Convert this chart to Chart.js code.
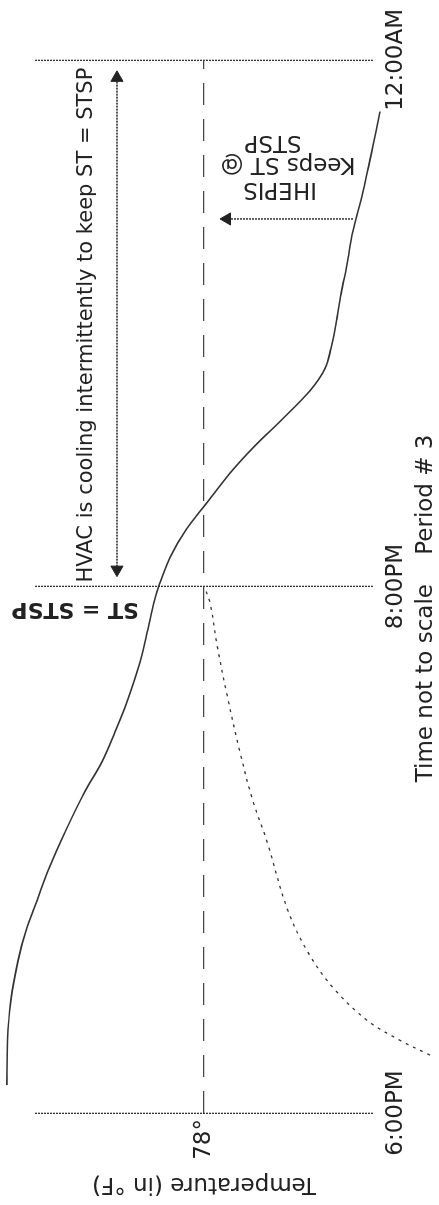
<!DOCTYPE html>
<html><head><meta charset="utf-8">
<script src="https://cdn.jsdelivr.net/npm/chart.js@4.4.1/dist/chart.umd.min.js"></script>
<style>
html,body{margin:0;padding:0;background:#fff;overflow:hidden;width:439px;height:1205px;}
#wrap{position:absolute;left:0;top:0;width:1205px;height:439px;transform-origin:0 0;transform:translate(0,1205px) rotate(-90deg);background:#fff;}
canvas{display:block;}
</style></head><body>
<div id="wrap"><canvas id="c" width="1205" height="439"></canvas></div>
<script>
// Time axis (not to scale): 0 = 6:00PM, 1 = 8:00PM, 2 = 12:00AM
const timeTicks = [0, 1, 2];
const timeLabels = ['6:00PM', '8:00PM', '12:00AM'];
const tempTicks = [78];
const tempTickLabels = ['78°'];

// Space temperature (solid)
const solidTime = [0.053,0.138,0.214,0.290,0.346,0.403,0.469,0.541,0.611,0.667,0.724,0.781,0.856,0.919,0.970,1.002,1.055,1.108,1.159,1.215,1.267,1.319,1.372,1.414,1.452,1.499,1.556,1.612,1.675,1.750,1.820,1.864,1.902];
const solidTemp = [87.33,87.30,87.14,86.80,86.43,85.91,85.29,84.49,83.63,82.83,82.21,81.64,81.03,80.65,80.37,80.13,79.61,78.85,77.86,76.77,75.59,74.26,72.98,72.27,71.99,71.75,71.51,71.23,70.95,70.47,70.09,69.86,69.67];

// Dotted curve
const dottedTime = [0.110,0.138,0.176,0.238,0.308,0.389,0.516,0.592,0.686,0.794,0.888,0.970,1.000];
const dottedTemp = [67.30,68.72,70.28,71.89,73.12,74.07,75.02,75.68,76.30,76.91,77.38,77.72,78.00];

// Arrows
const hvacArrowTime = [1.032, 1.966];
const hvacArrowTemp = [82.12, 82.12];
const ihepisArrowTime = [1.698, 1.698];
const ihepisArrowTemp = [70.95, 76.91];

const pts = (xs, ys) => xs.map((x, i) => ({x, y: ys[i]}));
const FONT = 'DejaVu Sans';
const INK = '#222';

const textPlugin = {
  id: 'notes',
  afterDatasetsDraw(chart) {
    const {ctx} = chart;
    const xs = chart.scales.x, ys = chart.scales.y;
    const px = v => xs.getPixelForValue(v), py = v => ys.getPixelForValue(v);
    ctx.save();
    ctx.fillStyle = INK;
    ctx.textBaseline = 'middle';
    ctx.font = '21px "' + FONT + '"';
    ctx.textAlign = 'left';
    ctx.fillText('HVAC is cooling intermittently to keep ST = STSP', px(1.0076), py(83.54));
    const rot = (txt, x, y, font) => {
      ctx.save();
      ctx.translate(x, y);
      ctx.rotate(-Math.PI / 2);
      ctx.font = font;
      ctx.textAlign = 'center';
      ctx.fillText(txt, 0, 0);
      ctx.restore();
    };
    rot('ST = STSP', px(0.958), py(84.1), 'bold 22px "' + FONT + '"');
    rot('IHEPIS', px(1.755), py(86 - (280 - 35) / 21.125), '23px "' + FONT + '"');
    rot('Keeps ST @', px(1.802), py(86 - (288 - 35) / 21.125), '23px "' + FONT + '"');
    rot('STSP', px(1.845), py(86 - (273 - 35) / 21.125), '23px "' + FONT + '"');
    ctx.restore();
  }
};

new Chart(document.getElementById('c'), {
  type: 'line',
  data: {
    datasets: [
      {data: pts(solidTime, solidTemp), borderColor: '#333', borderWidth: 1.6, pointRadius: 0, tension: 0.35, clip: false},
      {data: pts(dottedTime, dottedTemp), borderColor: '#333', borderWidth: 1.3, borderDash: [3, 5], pointRadius: 0, tension: 0.35, clip: false},
      {data: pts(hvacArrowTime, hvacArrowTemp), borderColor: '#222', borderWidth: 1.6, borderDash: [2, 1], pointStyle: 'triangle', pointRadius: [7, 7], pointRotation: [270, 90], pointBackgroundColor: '#222', pointBorderColor: '#222', pointBorderWidth: 1, tension: 0, clip: false},
      {data: pts(ihepisArrowTime, ihepisArrowTemp), borderColor: '#222', borderWidth: 1.4, borderDash: [2, 1], pointStyle: 'triangle', pointRadius: [0, 7], pointRotation: [0, 0], pointBackgroundColor: '#222', pointBorderColor: '#222', pointBorderWidth: 1, tension: 0, clip: false}
    ]
  },
  options: {
    responsive: false,
    animation: false,
    events: [],
    layout: {padding: {top: 35, right: 55, left: 0, bottom: 0}},
    plugins: {legend: {display: false}, tooltip: {enabled: false}},
    scales: {
      x: {
        type: 'linear', min: 0, max: 2,
        afterBuildTicks: s => { s.ticks = timeTicks.map(v => ({value: v})); },
        afterFit: s => { s.height = 66; },
        ticks: {font: {family: FONT, size: 23}, color: INK, padding: 9, maxRotation: 0, autoSkip: false,
          callback: v => timeLabels[timeTicks.indexOf(v)]},
        grid: {color: '#333', lineWidth: 1.3, drawTicks: false},
        border: {display: false, dash: [2, 1]},
        title: {display: true, text: 'Time not to scale    Period # 3      ', font: {family: FONT, size: 23, lineHeight: 1}, color: INK, padding: {top: 0, bottom: 1}}
      },
      y: {
        type: 'linear', min: 70, max: 86,
        afterBuildTicks: s => { s.ticks = tempTicks.map(v => ({value: v})); },
        afterFit: s => { s.width = 92; },
        ticks: {font: {family: FONT, size: 23}, color: INK, padding: 6,
          callback: v => tempTickLabels[tempTicks.indexOf(v)]},
        grid: {color: '#444', lineWidth: 1.2, drawTicks: false},
        border: {display: false, dash: [22, 14]},
        title: {display: true, text: 'Temperature (in °F)', font: {family: FONT, size: 23, lineHeight: 1}, color: INK, padding: {top: 10, bottom: 0}}
      }
    }
  },
  plugins: [textPlugin]
});
</script>
</body></html>
